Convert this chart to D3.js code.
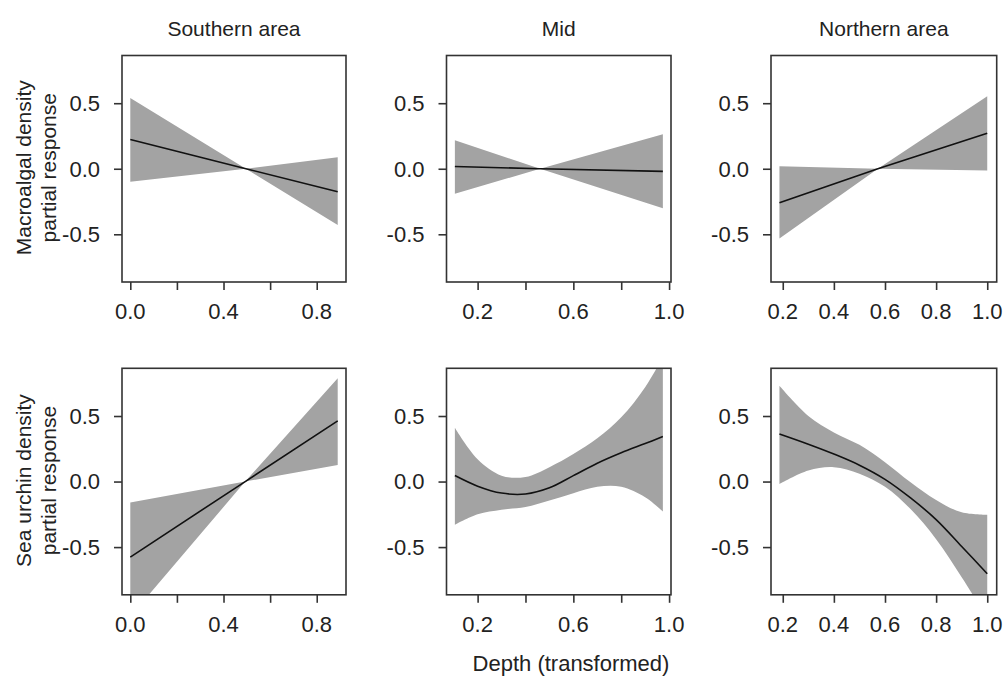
<!DOCTYPE html>
<html>
<head>
<meta charset="utf-8">
<script src="https://cdn.jsdelivr.net/npm/d3@7"></script>
<style>
  body { margin: 0; background: #fff; }
  svg text { font-family: "Liberation Sans", Arial, sans-serif; fill: #222; }
</style>
</head>
<body>
<div id="chart"></div>
<script>
// column / row labels
const areas = ["Southern area", "Mid", "Northern area"];
const responses = [["Macroalgal density", "partial response"], ["Sea urchin density", "partial response"]];
const xTitle = "Depth (transformed)";

// ticks
const xTicks = [
  [0.0, 0.2, 0.4, 0.6, 0.8],
  [0.2, 0.4, 0.6, 0.8, 1.0],
  [0.2, 0.4, 0.6, 0.8, 1.0],
];
const xTickLabels = [
  [0.0, 0.4, 0.8],
  [0.2, 0.6, 1.0],
  [0.2, 0.4, 0.6, 0.8, 1.0],
];
const yTicks = [-0.5, 0.0, 0.5];
const xDomains = [[-0.0356, 0.9256], [0.07, 1.008], [0.154, 1.037]];
const yDomain = [-0.864, 0.864];

// macroalgal density, per area
const southMacroX = [0.0, 0.496, 0.89];
const southMacroFit = [0.223, 0.0, -0.175];
const southMacroUpper = [0.54, 0.0, 0.088];
const southMacroLower = [-0.10, 0.0, -0.43];

const midMacroX = [0.105, 0.461, 0.974];
const midMacroFit = [0.017, 0.0, -0.02];
const midMacroUpper = [0.218, 0.0, 0.263];
const midMacroLower = [-0.19, 0.0, -0.302];

const northMacroX = [0.187, 0.572, 1.0];
const northMacroFit = [-0.259, 0.0, 0.271];
const northMacroUpper = [0.02, 0.0, 0.553];
const northMacroLower = [-0.533, 0.0, -0.013];

// sea urchin density, per area
const southUrchinX = [0.0, 0.493, 0.89];
const southUrchinFit = [-0.576, 0.0, 0.463];
const southUrchinUpper = [-0.16, 0.0, 0.788];
const southUrchinLower = [-1.03, 0.0, 0.127];

const midUrchinX = [0.105, 0.2, 0.3, 0.4, 0.5, 0.6, 0.7, 0.8, 0.9, 0.974];
const midUrchinFit = [0.046, -0.035, -0.088, -0.095, -0.048, 0.045, 0.14, 0.22, 0.29, 0.343];
const midUrchinUpper = [0.41, 0.17, 0.045, 0.035, 0.11, 0.21, 0.33, 0.49, 0.72, 0.95];
const midUrchinLower = [-0.33, -0.25, -0.215, -0.195, -0.145, -0.089, -0.04, -0.04, -0.12, -0.228];

const northUrchinX = [0.187, 0.3, 0.4, 0.5, 0.6, 0.7, 0.8, 0.9, 1.0];
const northUrchinFit = [0.363, 0.285, 0.21, 0.125, 0.017, -0.125, -0.29, -0.495, -0.703];
const northUrchinUpper = [0.73, 0.5, 0.375, 0.28, 0.148, -0.005, -0.14, -0.235, -0.254];
const northUrchinLower = [-0.018, 0.085, 0.11, 0.06, -0.04, -0.21, -0.44, -0.73, -1.04];

const panels = [
  [
    { x: southMacroX, fit: southMacroFit, upper: southMacroUpper, lower: southMacroLower, smooth: false },
    { x: midMacroX, fit: midMacroFit, upper: midMacroUpper, lower: midMacroLower, smooth: false },
    { x: northMacroX, fit: northMacroFit, upper: northMacroUpper, lower: northMacroLower, smooth: false },
  ],
  [
    { x: southUrchinX, fit: southUrchinFit, upper: southUrchinUpper, lower: southUrchinLower, smooth: false },
    { x: midUrchinX, fit: midUrchinFit, upper: midUrchinUpper, lower: midUrchinLower, smooth: true },
    { x: northUrchinX, fit: northUrchinFit, upper: northUrchinUpper, lower: northUrchinLower, smooth: true },
  ],
];

const W = 1003, H = 678;
const colLeft = [122, 446.5, 771];
const colWidth = [224, 224.5, 225.7];
const rowTop = [55.5, 368.3];
const plotH = 226.5;
const fontSize = 22;

const svg = d3.select("#chart").append("svg").attr("width", W).attr("height", H);

// column titles
areas.forEach((a, c) => {
  svg.append("text")
    .attr("x", colLeft[c] + colWidth[c] / 2)
    .attr("y", 36)
    .attr("text-anchor", "middle")
    .style("font-size", "21px")
    .text(a);
});

panels.forEach((row, r) => {
  row.forEach((p, c) => {
    const x = d3.scaleLinear().domain(xDomains[c]).range([0, colWidth[c]]);
    const y = d3.scaleLinear().domain(yDomain).range([plotH, 0]);
    const g = svg.append("g").attr("transform", `translate(${colLeft[c]},${rowTop[r]})`);

    const clipId = `clip-${r}-${c}`;
    g.append("clipPath").attr("id", clipId)
      .append("rect").attr("width", colWidth[c]).attr("height", plotH);

    const pts = p.x.map((v, i) => ({ x: v, fit: p.fit[i], hi: p.upper[i], lo: p.lower[i] }));
    const curve = p.smooth ? d3.curveCatmullRom.alpha(0.5) : d3.curveLinear;

    const area = d3.area()
      .x((d) => x(d.x))
      .y0((d) => y(d.lo))
      .y1((d) => y(d.hi))
      .curve(curve);
    const line = d3.line()
      .x((d) => x(d.x))
      .y((d) => y(d.fit))
      .curve(curve);

    const body = g.append("g").attr("clip-path", `url(#${clipId})`);
    body.append("path").datum(pts).attr("d", area).attr("fill", "#a3a3a3");
    body.append("path").datum(pts).attr("d", line)
      .attr("fill", "none").attr("stroke", "#111").attr("stroke-width", 1.6);

    // box
    g.append("rect")
      .attr("width", colWidth[c]).attr("height", plotH)
      .attr("fill", "none").attr("stroke", "#333").attr("stroke-width", 1.6);

    // x axis
    const xa = g.append("g").attr("transform", `translate(0,${plotH})`)
      .call(d3.axisBottom(x).tickValues(xTicks[c]).tickSize(8).tickFormat(""));
    xa.select(".domain").remove();
    xa.selectAll(".tick line").attr("stroke", "#333").attr("stroke-width", 1.6);
    g.selectAll(".xlab").data(xTickLabels[c]).join("text")
      .attr("x", (d) => x(d))
      .attr("y", plotH + 37)
      .attr("text-anchor", "middle")
      .style("font-size", fontSize + "px")
      .text((d) => d3.format(".1f")(d));

    // y axis
    const ya = g.append("g")
      .call(d3.axisLeft(y).tickValues(yTicks).tickSize(8).tickFormat(""));
    ya.select(".domain").remove();
    ya.selectAll(".tick line").attr("stroke", "#333").attr("stroke-width", 1.6);
    g.selectAll(".ylab").data(yTicks).join("text")
      .attr("x", -22)
      .attr("y", (d) => y(d))
      .attr("dy", "0.36em")
      .attr("text-anchor", "end")
      .style("font-size", fontSize + "px")
      .text((d) => (d < 0 ? "-" : "") + d3.format(".1f")(Math.abs(d)));

    // row label on the left column
    if (c === 0) {
      const t = svg.append("text")
        .attr("transform", `translate(0,${rowTop[r] + plotH / 2 - 1}) rotate(-90)`)
        .attr("text-anchor", "middle")
        .style("font-size", "21px");
      t.append("tspan").attr("x", 0).attr("y", 31).text(responses[r][0]);
      t.append("tspan").attr("x", 0).attr("y", 56).text(responses[r][1]);
    }
  });
});

svg.append("text")
  .attr("x", 571)
  .attr("y", 671)
  .attr("text-anchor", "middle")
  .style("font-size", fontSize + "px")
  .text(xTitle);
</script>
</body>
</html>
